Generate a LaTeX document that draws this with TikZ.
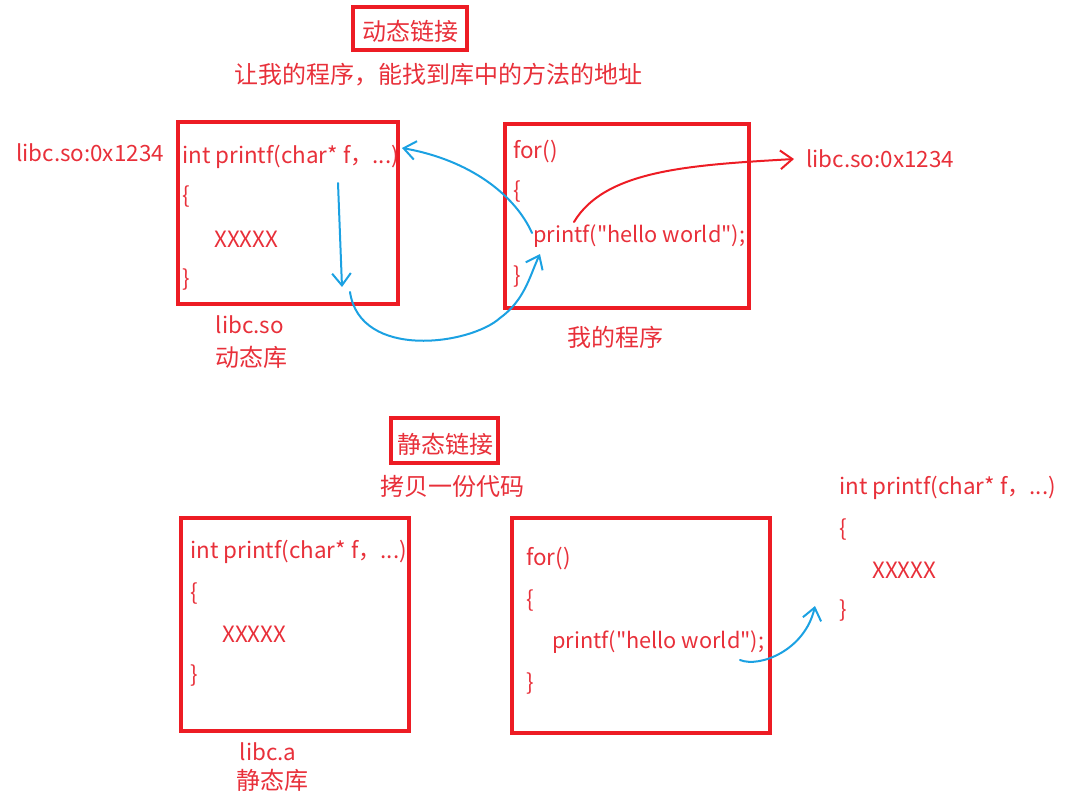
\documentclass[tikz,border=0pt]{standalone}
\usepackage{fontspec}
\setmainfont{Noto Sans CJK SC}
\newfontfamily\qfont{Noto Sans CJK SC}
\usetikzlibrary{arrows.meta}
\definecolor{boxred}{HTML}{ED1C24}
\definecolor{txtred}{HTML}{E8303A}
\definecolor{pen}{HTML}{1BA1E2}
\newcommand\dq{{\qfont\char34\relax}}
\tikzset{
  t/.style={text=txtred, inner sep=0pt, anchor=west, font=\fontsize{16.8}{20}\selectfont},
  tc/.style={t, anchor=center},
  tn/.style={t, font=\fontsize{16.3}{20}\selectfont},
  cjk/.style={tc, font=\fontsize{18}{21}\selectfont},
  frame/.style={draw=boxred, line width=2.4pt},
  bluepen/.style={draw=pen, line width=1.5pt, line cap=round, line join=round, -{Straight Barb[length=9pt,width=14pt,line width=1.5pt]}},
  redpen/.style={draw=boxred, line width=1.5pt, line cap=round, -{Straight Barb[length=9pt,width=14pt,line width=1.5pt]}},
}
\begin{document}
\begin{tikzpicture}[x=0.75pt,y=-0.75pt]
\useasboundingbox (0,0) rectangle (1065,801);
% ---- top: dynamic linking
\node[frame, minimum width=114*0.75pt, minimum height=43*0.75pt, inner sep=0pt] (dynbox) at (410,28.5) {};
\node[cjk] (dyntitle) at (410,31) {动态链接};
\node[cjk] (dyndesc) at (438,75) {让我的程序，能找到库中的方法的地址};

\node[frame, minimum width=220*0.75pt, minimum height=182*0.75pt, inner sep=0pt] (so) at (288,213) {};
\node[t] (addrL) at (16,153) {libc.so:0x1234};
\node[t] (so1) at (182,157) {int printf(char* f，...)};
\node[t] (so2) at (182,197) {\{};
\node[t] (so3) at (214,239) {XXXXX};
\node[t] (so4) at (182,280) {\}};
\node[tc] (solbl) at (250,325) {libc.so};
\node[cjk] (sodesc) at (251,357) {动态库};

\node[frame, minimum width=244*0.75pt, minimum height=184*0.75pt, inner sep=0pt] (prog) at (627,216) {};
\node[t] (p1) at (513,152) {for()};
\node[t] (p2) at (513,192) {\{};
\node[tn] (p3) at (533,236) {printf(\dq hello world\dq);};
\node[t] (p4) at (513,277) {\}};
\node[cjk] (proglbl) at (615,337) {我的程序};
\node[t] (addrR) at (806,159) {libc.so:0x1234};

\coordinate (rs) at (574,222);
\draw[redpen] (rs) .. controls (605,170) and (690,165) .. ([xshift=-9pt]addrR.west);

\coordinate (b1s) at (532,233);
\coordinate (b1e) at (402,148);
\draw[bluepen] (b1s) .. controls (515,195) and (470,160) .. (b1e);
\coordinate (b2s) at (338,183);
\coordinate (b2e) at (342,287);
\draw[bluepen] (b2s) -- (b2e);
\coordinate (b3s) at (350,292);
\coordinate (b3e) at (540,254);
\draw[bluepen] (b3s) .. controls (360,360) and (470,345) .. (500,318) .. controls (525,300) and (530,275) .. (b3e);

% ---- bottom: static linking
\node[frame, minimum width=107*0.75pt, minimum height=45*0.75pt, inner sep=0pt] (stbox) at (444.5,440.5) {};
\node[cjk] (sttitle) at (445,444) {静态链接};
\node[cjk] (stdesc) at (452,486) {拷贝一份代码};

\node[frame, minimum width=228*0.75pt, minimum height=213*0.75pt, inner sep=0pt] (a) at (295,624.5) {};
\node[t] (a1) at (190,552) {int printf(char* f，...)};
\node[t] (a2) at (190,594) {\{};
\node[t] (a3) at (222,634) {XXXXX};
\node[t] (a4) at (190,676) {\}};
\node[tc] (albl) at (268,752) {libc.a};
\node[cjk] (adesc) at (272,780) {静态库};

\node[frame, minimum width=258*0.75pt, minimum height=215*0.75pt, inner sep=0pt] (prog2) at (641,625.5) {};
\node[t] (q1) at (526,559) {for()};
\node[t] (q2) at (526,601) {\{};
\node[tn] (q3) at (552,642) {printf(\dq hello world\dq);};
\node[t] (q4) at (526,684) {\}};

\node[t] (c1) at (839,488) {int printf(char* f，...)};
\node[t] (c2) at (839,530) {\{};
\node[t] (c3) at (872,570) {XXXXX};
\node[t] (c4) at (839,611) {\}};

\coordinate (b4s) at (740,660);
\coordinate (b4e) at (815,606);
\draw[bluepen] (b4s) .. controls (760,668) and (805,650) .. (b4e);
\end{tikzpicture}
\end{document}
